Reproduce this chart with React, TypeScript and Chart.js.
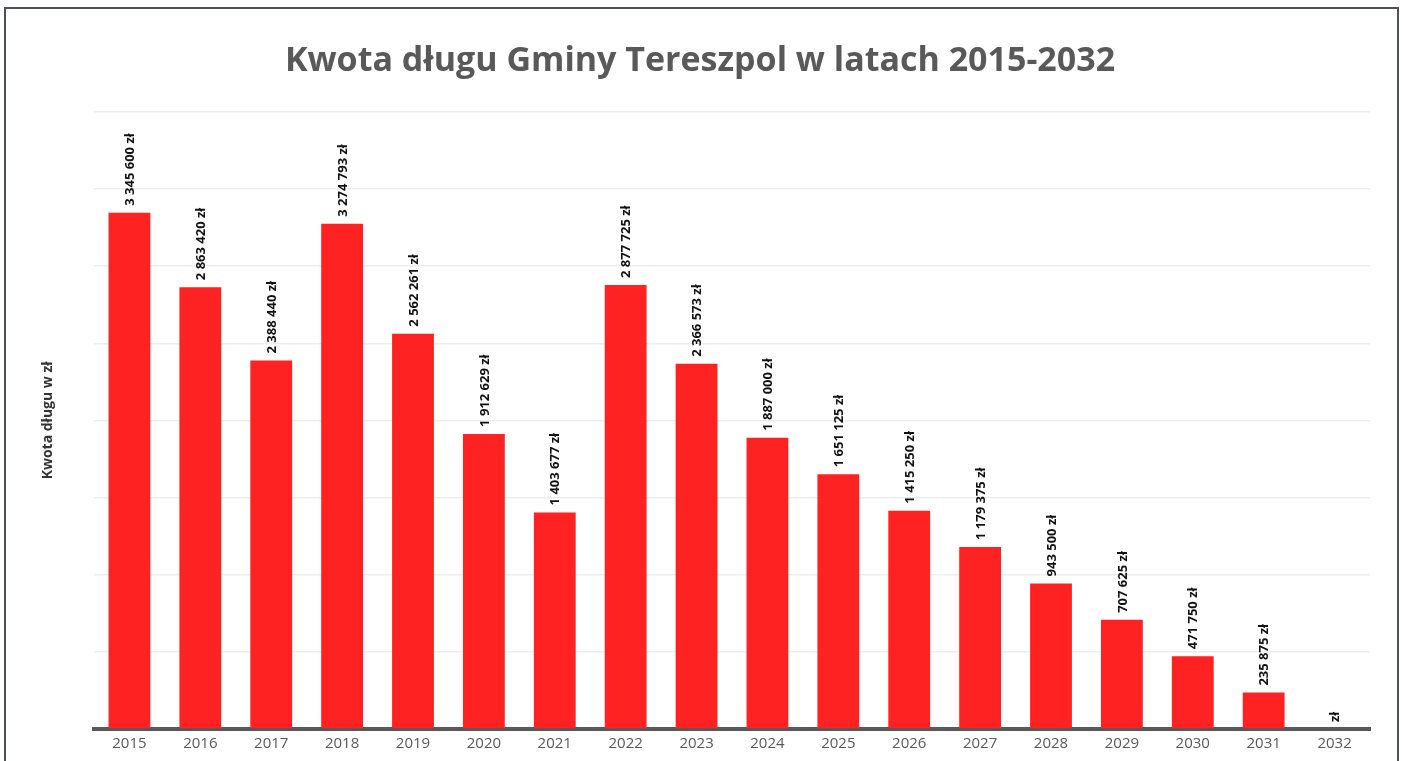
import React, { useEffect, useRef } from "react";
import { Chart, registerables } from "chart.js";

Chart.register(...registerables);

const years = ["2015","2016","2017","2018","2019","2020","2021","2022","2023","2024","2025","2026","2027","2028","2029","2030","2031","2032"];
const debt = [3345600, 2863420, 2388440, 3274793, 2562261, 1912629, 1403677, 2877725, 2366573, 1887000, 1651125, 1415250, 1179375, 943500, 707625, 471750, 235875, 0];
const chartTitle = "Kwota długu Gminy Tereszpol w latach 2015-2032";
const yAxisTitle = "Kwota długu w zł";

function fmt(v: number): string {
  if (v === 0) return "zł";
  return String(Math.round(v)).replace(/\B(?=(\d{3})+(?!\d))/g, " ") + " zł";
}

const valueLabels = {
  id: "valueLabels",
  afterDatasetsDraw(chart: any) {
    const ctx = chart.ctx;
    const meta = chart.getDatasetMeta(0);
    ctx.save();
    ctx.font = "bold 13px 'Open Sans'";
    ctx.fillStyle = "#111111";
    ctx.textAlign = "left";
    ctx.textBaseline = "middle";
    meta.data.forEach((bar: any, i: number) => {
      ctx.save();
      ctx.translate(bar.x + 1, bar.y - 7);
      ctx.rotate(-Math.PI / 2);
      ctx.fillText(fmt(debt[i]), 0, 0);
      ctx.restore();
    });
    ctx.restore();
  },
};

export default function App() {
  const ref = useRef<HTMLCanvasElement | null>(null);
  useEffect(() => {
    if (!ref.current) return;
    const chart = new Chart(ref.current, {
      type: "bar",
      data: {
        labels: years,
        datasets: [
          {
            data: debt,
            backgroundColor: "#fe2222",
            borderWidth: 0,
            barPercentage: 0.59,
            categoryPercentage: 1,
          },
        ],
      },
      options: {
        responsive: false,
        animation: false,
        layout: { padding: { left: 30, right: 32, top: 30, bottom: 2 } },
        plugins: {
          legend: { display: false },
          tooltip: { enabled: false },
          title: {
            display: true,
            text: chartTitle,
            color: "#595959",
            font: { family: "'Open Sans'", size: 34, weight: "bold" },
            padding: { top: 11, bottom: 30 },
          },
        },
        scales: {
          x: {
            grid: { display: false, drawTicks: false },
            border: { display: true, color: "#595959", width: 4 },
            ticks: {
              color: "#595959",
              font: { family: "'Open Sans'", size: 15 },
              padding: 6,
              maxRotation: 0,
            },
          },
          y: {
            min: 0,
            max: 4000000,
            afterFit: (s: any) => {
              s.width = 64;
            },
            ticks: { display: false, stepSize: 500000 },
            grid: { color: "#ededed", lineWidth: 1.5, drawTicks: false },
            border: { display: false },
            title: {
              display: true,
              text: yAxisTitle,
              color: "#333333",
              font: { family: "'Open Sans'", size: 14, weight: "bold" },
              padding: { top: 10, bottom: 0 },
            },
          },
        },
      },
      plugins: [valueLabels],
    });
    return () => chart.destroy();
  }, []);

  return (
    <div style={{ position: "fixed", left: 0, top: 0, width: 1402, height: 761, background: "#ffffff", overflow: "hidden" }}>
      <canvas ref={ref} width={1402} height={761} style={{ position: "absolute", left: 0, top: 0, width: 1402, height: 761 }} />
      <div
        style={{
          position: "absolute",
          left: 4,
          top: 7,
          width: 1391,
          height: 800,
          border: "2px solid #4d5259",
          borderBottom: "none",
          pointerEvents: "none",
        }}
      />
    </div>
  );
}
